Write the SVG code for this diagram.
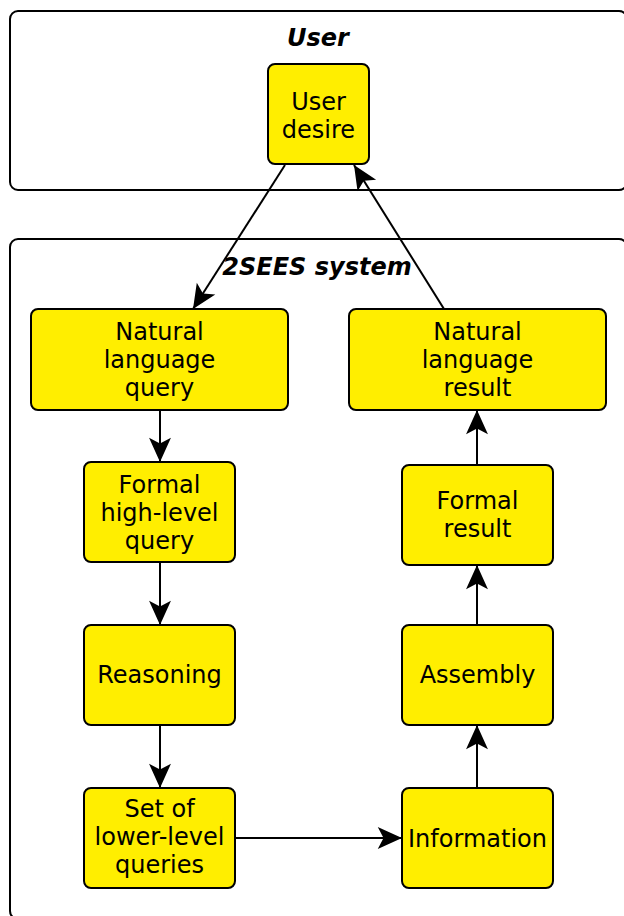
<svg xmlns="http://www.w3.org/2000/svg" width="624" height="916" viewBox="0 0 624 916">
<style>
.container{fill:#ffffff;stroke:#000000;stroke-width:2}
.box{fill:#ffee00;stroke:#000000;stroke-width:2}
.lbl{font-family:"DejaVu Sans",sans-serif;font-size:24px;text-anchor:middle;fill:#000000}
.title{font-family:"DejaVu Sans",sans-serif;font-size:24px;font-weight:bold;font-style:oblique;text-anchor:middle;fill:#000000}
.edge{fill:none;stroke:#000000;stroke-width:2;marker-end:url(#arrow)}
</style>
<defs>
<marker id="arrow" markerUnits="userSpaceOnUse" markerWidth="30" markerHeight="30" viewBox="-24 -12 26 24" refX="0" refY="0" orient="auto">
<path d="M0,0 L-21,-9.5 L-16,0 L-21,9.5 Z" fill="#000000"/>
</marker>
</defs>
<g id="user-container">
<rect class="container" x="10" y="11" width="617" height="179" rx="8"/>
<text class="title" x="318" y="46">User</text>
</g>
<g id="system-container">
<rect class="container" x="10" y="239" width="617" height="680" rx="8"/>
<text class="title" x="317" y="275">2SEES system</text>
</g>
<g id="user-desire">
<rect class="box" x="268" y="64" width="101" height="100" rx="7"/>
<text class="lbl" x="318.5" y="110">User</text>
<text class="lbl" x="318.5" y="138">desire</text>
</g>
<g id="nl-query">
<rect class="box" x="31" y="309" width="257" height="101" rx="7"/>
<text class="lbl" x="159.5" y="340">Natural</text>
<text class="lbl" x="159.5" y="368">language</text>
<text class="lbl" x="159.5" y="396">query</text>
</g>
<g id="nl-result">
<rect class="box" x="349" y="309" width="257" height="101" rx="7"/>
<text class="lbl" x="477.5" y="340">Natural</text>
<text class="lbl" x="477.5" y="368">language</text>
<text class="lbl" x="477.5" y="396">result</text>
</g>
<g id="formal-query">
<rect class="box" x="84" y="462" width="151" height="100" rx="7"/>
<text class="lbl" x="159.5" y="493">Formal</text>
<text class="lbl" x="159.5" y="521">high-level</text>
<text class="lbl" x="159.5" y="549">query</text>
</g>
<g id="formal-result">
<rect class="box" x="402" y="465" width="151" height="100" rx="7"/>
<text class="lbl" x="477.5" y="509">Formal</text>
<text class="lbl" x="477.5" y="537">result</text>
</g>
<g id="reasoning">
<rect class="box" x="84" y="625" width="151" height="100" rx="7"/>
<text class="lbl" x="159.5" y="683">Reasoning</text>
</g>
<g id="assembly">
<rect class="box" x="402" y="625" width="151" height="100" rx="7"/>
<text class="lbl" x="477.5" y="683">Assembly</text>
</g>
<g id="lower-queries">
<rect class="box" x="84" y="788" width="151" height="100" rx="7"/>
<text class="lbl" x="159.5" y="817">Set of</text>
<text class="lbl" x="159.5" y="845">lower-level</text>
<text class="lbl" x="159.5" y="873">queries</text>
</g>
<g id="information">
<rect class="box" x="402" y="788" width="151" height="100" rx="7"/>
<text class="lbl" x="477.5" y="847">Information</text>
</g>
<g id="connectors">
<path class="edge" d="M285,165 L193,309"/>
<path class="edge" d="M444,309 L354,165"/>
<path class="edge" d="M160,410 L160,462"/>
<path class="edge" d="M160,562 L160,625"/>
<path class="edge" d="M160,725 L160,788"/>
<path class="edge" d="M235,838 L402,838"/>
<path class="edge" d="M477,788 L477,725"/>
<path class="edge" d="M477,625 L477,565"/>
<path class="edge" d="M477,465 L477,410"/>
</g>
</svg>
